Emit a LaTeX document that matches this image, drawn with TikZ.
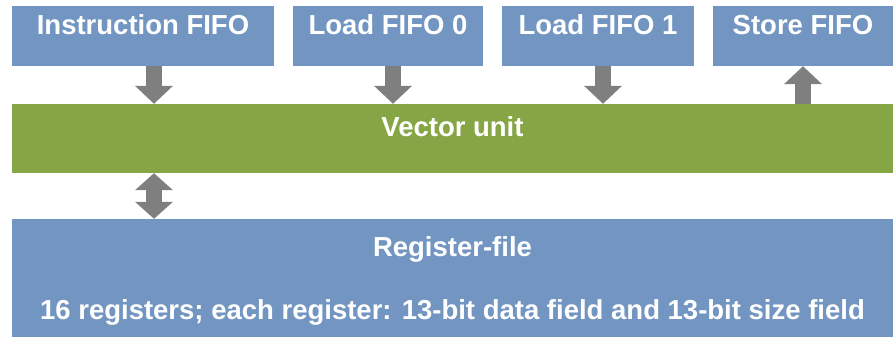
\documentclass[tikz,border=0pt]{standalone}
\usepackage{fontspec}
\setmainfont{Liberation Sans}
\usetikzlibrary{positioning, arrows.meta}

\begin{document}
\begin{tikzpicture}[x=1pt, y=1pt, font=\fontsize{27.5}{63}\selectfont\bfseries,
  fifo/.style={fill=unitBlue, text=white, inner sep=0pt, minimum height=60pt, text height=29pt, text depth=31pt},
  bar/.style={fill=#1, text=white, inner sep=0pt, minimum width=881pt},
  blkarrow/.style={draw=arrGray, line width=16pt, line cap=butt, -{Triangle[length=18pt, width=37pt]}},
  dblarrow/.style={draw=arrGray, line width=16pt, line cap=butt, {Triangle[length=17pt, width=37pt]}-{Triangle[length=17pt, width=37pt]}}]
\definecolor{unitBlue}{HTML}{7296C1}
\definecolor{vecGreen}{HTML}{86A544}
\definecolor{arrGray}{HTML}{7F7F7F}
\useasboundingbox (0, 0) rectangle (893, 337);
\node[fifo, minimum width=262pt] (ififo)  at (143, 301) {Instruction FIFO};
\node[fifo, minimum width=190pt] (lfifo0) at (388, 301) {Load FIFO 0};
\node[fifo, minimum width=192pt] (lfifo1) at (598, 301) {Load FIFO 1};
\node[fifo, minimum width=180pt] (sfifo)  at (803, 301) {Store FIFO};
\node[bar=vecGreen, text height=33pt, text depth=36pt] (vunit) at (452.5, 198.5) {Vector unit};
\node[bar=unitBlue, align=center, text height=101pt, text depth=17pt] (rfile) at (452.5, 59)
  {Register-file\\16 registers; each register: 13-bit data field and 13-bit size field};
\coordinate (iport) at ([xshift=11pt]ififo.south);
\coordinate (l0port) at ([xshift=5pt]lfifo0.south);
\coordinate (l1port) at ([xshift=5pt]lfifo1.south);
\coordinate (sport) at (sfifo.south);
\draw[blkarrow] (iport) -- (iport |- vunit.north);
\draw[blkarrow] (l0port) -- (l0port |- vunit.north);
\draw[blkarrow] (l1port) -- (l1port |- vunit.north);
\draw[blkarrow] (sport |- vunit.north) -- (sport);
\draw[dblarrow] (iport |- vunit.south) -- (iport |- rfile.north);
\end{tikzpicture}
\end{document}
